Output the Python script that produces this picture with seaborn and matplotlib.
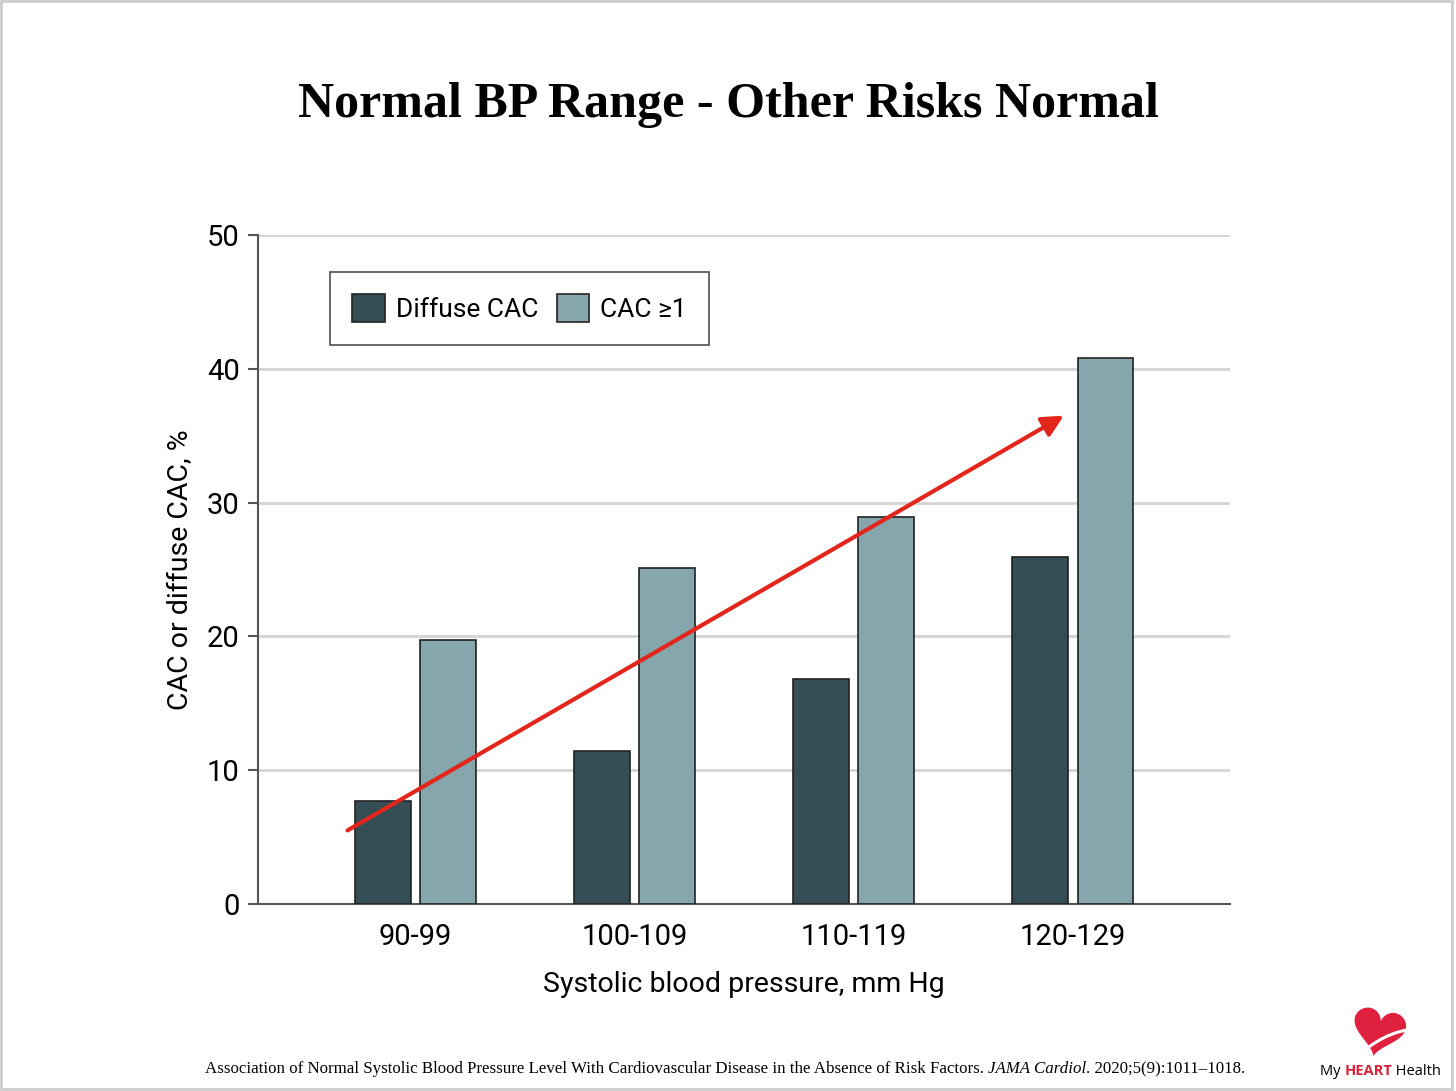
import matplotlib
matplotlib.use("Agg")
import matplotlib.pyplot as plt
import matplotlib.patches as mpatches
import seaborn as sns
import pandas as pd
import numpy as np

# Data
bp_groups = ["90-99", "100-109", "110-119", "120-129"]
diffuse_cac = [7.7, 11.4, 16.8, 25.9]
cac_ge1 = [19.7, 25.1, 28.9, 40.8]
series_names = ["Diffuse CAC", "CAC \u22651"]
y_ticks = [0, 10, 20, 30, 40, 50]

# trend arrow (data coords: start, end)
arrow_start = (-0.31, 5.5)
arrow_end = (2.96, 36.5)

colors = {"Diffuse CAC": "#354e56", "CAC \u22651": "#86a6ad"}

df = pd.DataFrame({
    "group": bp_groups * 2,
    "series": [series_names[0]] * 4 + [series_names[1]] * 4,
    "value": diffuse_cac + cac_ge1,
})

sns.set_theme(style="white")
plt.rcParams["font.family"] = ["Roboto", "DejaVu Sans"]
plt.rcParams["text.color"] = "black"
plt.rcParams["axes.labelcolor"] = "black"
plt.rcParams["xtick.color"] = "black"
plt.rcParams["ytick.color"] = "black"

fig = plt.figure(figsize=(14.56, 10.91), dpi=100)
ax = fig.add_axes([0.177, 0.1714, 0.668, 0.6132])

sns.barplot(data=df, x="group", y="value", hue="series", palette=colors,
            width=0.60, gap=0.15, edgecolor="#222222", linewidth=1.2,
            saturation=1, ax=ax, zorder=3)

ax.set_xlim(-0.72, 3.72)
ax.set_ylim(0, 50)
ax.set_yticks(y_ticks)
ax.yaxis.grid(True, color="#d4d4d4", linewidth=2, zorder=0)
ax.set_axisbelow(True)
for side in ["top", "right"]:
    ax.spines[side].set_visible(False)
for side in ["left", "bottom"]:
    ax.spines[side].set_color("#555555")
    ax.spines[side].set_linewidth(1.5)
ax.tick_params(axis="y", left=True, length=7, width=1.5, color="#555555",
               labelsize=21, pad=6)
ax.tick_params(axis="x", bottom=False, labelsize=21, pad=8)
ax.set_xlabel("Systolic blood pressure, mm Hg", fontsize=20.5, labelpad=14)
ax.set_ylabel("CAC or diffuse CAC, %", fontsize=20.5, labelpad=9)

leg = ax.legend(loc="upper left", bbox_to_anchor=(0.074, 0.945), borderaxespad=0,
                ncol=2, fontsize=19, frameon=True, fancybox=False,
                handlelength=1.25, handleheight=1.25, handletextpad=0.4,
                columnspacing=0.7, borderpad=0.85)
leg.get_frame().set_edgecolor("#222222")
leg.get_frame().set_linewidth(1.2)
for h in leg.legend_handles:
    h.set_edgecolor("#222222")

ax.annotate("", xy=arrow_end, xytext=arrow_start,
            arrowprops=dict(arrowstyle="-|>", color="#e2261c", lw=3,
                            mutation_scale=32, shrinkA=0, shrinkB=0),
            zorder=5)

fig.text(0.5, 0.893, "Normal BP Range - Other Risks Normal", ha="center",
         va="baseline", fontsize=36, fontweight="bold", family="Liberation Serif",
         color="black")

fig.canvas.draw()
renderer = fig.canvas.get_renderer()


def text_run(x_px, y_px, parts, **kw):
    # place text pieces one after the other on the same baseline
    x = x_px / 1456
    for txt, extra in parts:
        t = fig.text(x, 1 - y_px / 1091, txt, ha="left", va="baseline", **kw, **extra)
        x += t.get_window_extent(renderer).width / fig.bbox.width


# citation line, journal name in italic
text_run(205, 1073, [
    ("Association of Normal Systolic Blood Pressure Level With Cardiovascular "
     "Disease in the Absence of Risk Factors. ", {}),
    ("JAMA Cardiol", {"style": "italic"}),
    (". 2020;5(9):1011\u20131018.", {}),
], fontsize=12.2, family="Liberation Serif")

# logo: red heart with a white swoosh
logo = fig.add_axes([1348 / 1456, 1 - 1058 / 1091, 62 / 1456, 52 / 1091])
logo.set_axis_off()
t = np.linspace(0, 2 * np.pi, 200)
hx = 16 * np.sin(t) ** 3
hy = 13 * np.cos(t) - 5 * np.cos(2 * t) - 2 * np.cos(3 * t) - np.cos(4 * t)
ang = np.deg2rad(-12)
rx = hx * np.cos(ang) - hy * np.sin(ang)
ry = hx * np.sin(ang) + hy * np.cos(ang)
logo.fill(rx, ry, color="#e0203f", lw=0)
sx = np.linspace(-14, 19, 50)
logo.plot(sx, -4 - 0.012 * (sx - 19) ** 2 + 0.6 * (sx + 14) * 0.2, color="white", lw=2.2)
logo.set_xlim(-19, 19)
logo.set_ylim(-17, 14)
logo.set_aspect("equal")

text_run(1320, 1075, [
    ("My ", {}),
    ("HEART", {"fontweight": "bold", "color": "#d6203a"}),
    (" Health", {}),
], fontsize=10.5, family="Open Sans")

# light page border
fig.add_artist(mpatches.Rectangle((0.001, 0.002), 0.996, 0.997, transform=fig.transFigure,
                                  fill=False, edgecolor="#cccccc", linewidth=2))

fig.savefig("out.png", dpi=100)
